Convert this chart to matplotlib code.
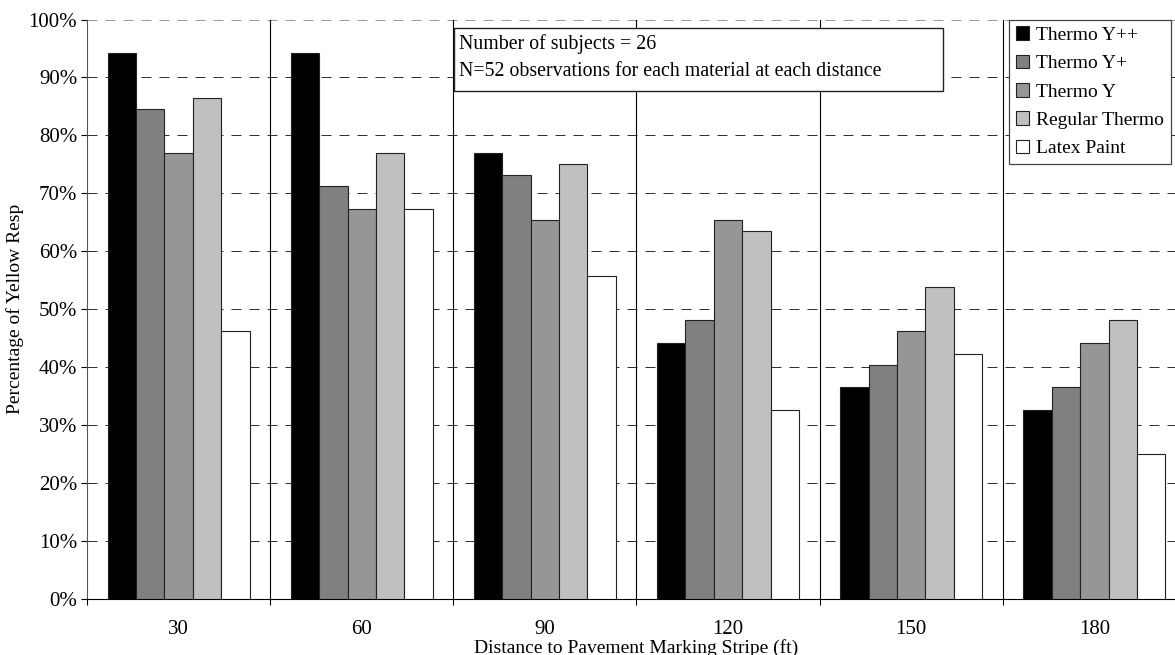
import numpy as np
import matplotlib
matplotlib.use('Agg')
import matplotlib.pyplot as plt
from matplotlib.patches import Rectangle
from matplotlib.ticker import FixedLocator, PercentFormatter

plt.rcParams['font.family'] = ['Liberation Serif', 'DejaVu Serif']

# Percentage of yellow responses by distance (N=52 per material/distance)
distances = ['30', '60', '90', '120', '150', '180']
materials = ['Thermo Y++', 'Thermo Y+', 'Thermo Y', 'Regular Thermo', 'Latex Paint']
thermo_ypp = [94.2, 94.2, 76.9, 44.2, 36.5, 32.7]
thermo_yp = [84.6, 71.2, 73.1, 48.1, 40.4, 36.5]
thermo_y = [76.9, 67.3, 65.4, 65.4, 46.2, 44.2]
regular_thermo = [86.5, 76.9, 75.0, 63.5, 53.8, 48.1]
latex_paint = [46.2, 67.3, 55.8, 32.7, 42.3, 25.0]
series = [thermo_ypp, thermo_yp, thermo_y, regular_thermo, latex_paint]
colors = ['#000000', '#808080', '#969696', '#c0c0c0', '#ffffff']

fig = plt.figure(figsize=(11.75, 6.55), dpi=100)
ax = fig.add_axes([0.074, 0.0855, 0.9354, 0.8847])

x = np.arange(len(distances))
bw = 0.155
start = -bw * len(series) / 2
for j, (vals, c) in enumerate(zip(series, colors)):
    ax.bar(x + start + (j + 0.5) * bw, vals, width=bw, color=c,
           edgecolor='#222222', linewidth=0.8, label=materials[j], zorder=3)

ax.set_xlim(-0.5, len(distances) - 0.5)
ax.set_ylim(0, 100)

# horizontal dashed grid and solid separators between distance groups
for v in range(10, 101, 10):
    ax.axhline(v, color='#333333' if v < 100 else '#999999', lw=0.72,
               linestyle=(0, (10, 8)), zorder=1)
for b in np.arange(0.5, len(distances) - 0.5, 1):
    ax.axvline(b, color='black', lw=0.8, zorder=1)

ax.xaxis.set_major_locator(FixedLocator(np.arange(-0.5, len(distances), 1)))
ax.xaxis.set_minor_locator(FixedLocator(x))
ax.set_xticklabels([], minor=False)
ax.set_xticklabels(distances, minor=True)
ax.tick_params(axis='x', which='major', direction='out', length=4, width=0.8)
ax.tick_params(axis='x', which='minor', length=0, pad=15, labelsize=15)
ax.set_yticks(np.arange(0, 101, 10))
ax.yaxis.set_major_formatter(PercentFormatter(decimals=0))
ax.tick_params(axis='y', direction='out', length=4, width=0.8, pad=3, labelsize=15)

for s in ['top', 'right']:
    ax.spines[s].set_visible(False)
ax.spines['left'].set_color('#555555')
ax.spines['bottom'].set_color('black')

ax.set_xlabel('Distance to Pavement Marking Stripe (ft)', fontsize=14, labelpad=0)
ax.set_ylabel('Percentage of Yellow Resp', fontsize=14, labelpad=3)

# note box
ax.add_patch(Rectangle((0.334, 0.877), 0.445, 0.108, transform=ax.transAxes,
                       facecolor='white', edgecolor='#222222', lw=1.0, zorder=5))
ax.text(0.3385, 0.958, 'Number of subjects = 26', transform=ax.transAxes,
        fontsize=14.3, va='center', ha='left', zorder=6)
ax.text(0.3385, 0.911, 'N=52 observations for each material at each distance',
        transform=ax.transAxes, fontsize=14.3, va='center', ha='left', zorder=6)

leg = ax.legend(loc='upper right', bbox_to_anchor=(0.986, 1.0), borderaxespad=0,
                fontsize=14, fancybox=False, edgecolor='#444444', framealpha=1,
                handlelength=0.7, handleheight=0.7, handletextpad=0.35,
                labelspacing=0.55, borderpad=0.35)
leg.get_frame().set_linewidth(0.9)
leg.set_zorder(6)

fig.savefig('out.png', dpi=100)
